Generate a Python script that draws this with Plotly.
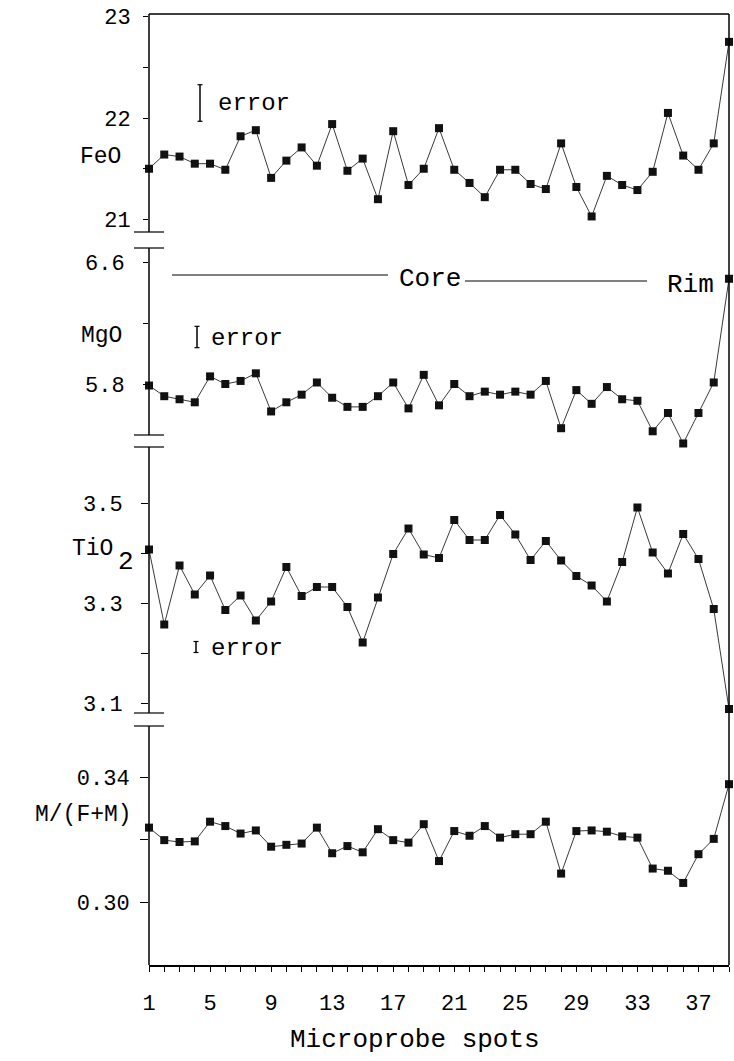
import plotly.graph_objects as go

# ---------------- data ----------------
spots = list(range(1, 40))
feo = [21.50, 21.64, 21.62, 21.55, 21.55, 21.49, 21.82, 21.88, 21.41, 21.58,
       21.71, 21.53, 21.94, 21.48, 21.60, 21.20, 21.87, 21.34, 21.50, 21.90,
       21.49, 21.36, 21.22, 21.49, 21.49, 21.35, 21.30, 21.75, 21.32, 21.03,
       21.43, 21.34, 21.29, 21.47, 22.05, 21.63, 21.49, 21.75, 22.75]
mgo = [5.79, 5.72, 5.70, 5.68, 5.85, 5.80, 5.82, 5.87, 5.62, 5.68,
       5.73, 5.81, 5.71, 5.65, 5.65, 5.72, 5.81, 5.64, 5.86, 5.66,
       5.80, 5.72, 5.75, 5.73, 5.75, 5.73, 5.82, 5.51, 5.76, 5.67,
       5.78, 5.70, 5.69, 5.49, 5.61, 5.41, 5.61, 5.81, 6.49]
tio2 = [3.407, 3.257, 3.375, 3.317, 3.355, 3.286, 3.315, 3.265, 3.303, 3.372,
        3.314, 3.332, 3.332, 3.292, 3.221, 3.311, 3.398, 3.449, 3.397, 3.390,
        3.466, 3.426, 3.426, 3.476, 3.437, 3.386, 3.424, 3.385, 3.354, 3.335,
        3.303, 3.382, 3.491, 3.401, 3.359, 3.438, 3.388, 3.288, 3.088]
mfm = [0.3238, 0.3198, 0.3192, 0.3194, 0.3257, 0.3243, 0.3219, 0.3229, 0.3177, 0.3183,
       0.3187, 0.3238, 0.3156, 0.3179, 0.3159, 0.3233, 0.3198, 0.3190, 0.3249, 0.3131,
       0.3227, 0.3212, 0.3243, 0.3206, 0.3217, 0.3217, 0.3257, 0.3091, 0.3227, 0.3229,
       0.3225, 0.3210, 0.3206, 0.3107, 0.3100, 0.3061, 0.3153, 0.3202, 0.3377]

x_tickvals = [1, 5, 9, 13, 17, 21, 25, 29, 33, 37]
feo_ticks = [21, 21.5, 22, 22.5, 23]
feo_ticktext = ["21", "", "22", "", "23"]
mgo_ticks = [5.8, 6.2, 6.6]
mgo_ticktext = ["5.8", "", "6.6"]
tio2_ticks = [3.1, 3.2, 3.3, 3.4, 3.5]
tio2_ticktext = ["3.1", "", "3.3", "", "3.5"]
mfm_ticks = [0.30, 0.32, 0.34]
mfm_ticktext = ["0.30", "", "0.34"]
errors = {"feo": 0.36, "mgo": 0.14, "tio2": 0.022}

# ---------------- layout geometry (pixels) ----------------
W, H = 734, 1061
L, R = 149, 729          # plot area left/right px
T, B = 14, 965           # plot area top/bottom px
PW, PH = R - L, B - T
FONT = "Liberation Mono, Courier New, monospace"


def fx(px):
    return (px - L) / PW


def fy(px):
    return (B - px) / PH


def panel(top_px, bot_px, ref_val, ref_px, px_per_unit):
    dom = [fy(bot_px), fy(top_px)]
    rng = [ref_val - (bot_px - ref_px) / px_per_unit,
           ref_val + (ref_px - top_px) / px_per_unit]
    return dom, rng


panels = {
    "y":  panel(14, 240, 22.0, 118, 101.5),
    "y2": panel(238, 452, 6.6, 262, 152.5),
    "y3": panel(440, 722, 3.5, 503, 500.0),
    "y4": panel(718, 965, 0.34, 777, 3125.0),
}

fig = go.Figure()
series = [("y", feo), ("y2", mgo), ("y3", tio2), ("y4", mfm)]
for yref, vals in series:
    fig.add_trace(go.Scatter(
        x=spots, y=vals, xaxis="x", yaxis=yref, mode="lines+markers",
        line=dict(color="#3a3a3a", width=1),
        marker=dict(symbol="square", size=8, color="#111111",
                    line=dict(color="#111111", width=0)),
        cliponaxis=False, showlegend=False, hoverinfo="skip"))

axis_common = dict(showline=False, zeroline=False, showgrid=False,
                   ticks="outside", tickcolor="black", tickwidth=1,
                   tickfont=dict(family=FONT, size=22, color="black"),
                   anchor="x", fixedrange=True)

layout_axes = {}
tick_defs = {
    "y": (feo_ticks, feo_ticktext, 5, 8),
    "y2": (mgo_ticks, mgo_ticktext, 5, 14),
    "y3": (tio2_ticks, tio2_ticktext, 7, 14),
    "y4": (mfm_ticks, mfm_ticktext, 8, 6),
}
for key, (dom, rng) in panels.items():
    tv, tt, tl, so = tick_defs[key]
    name = "yaxis" if key == "y" else "yaxis" + key[1:]
    layout_axes[name] = dict(axis_common, domain=dom, range=rng,
                             tickvals=tv, ticktext=tt, ticklen=tl,
                             ticklabelstandoff=so)

fig.update_layout(
    width=W, height=H,
    margin=dict(l=L, r=W - R, t=T, b=H - B, pad=0),
    paper_bgcolor="white", plot_bgcolor="white",
    xaxis=dict(domain=[0, 1], range=[1, 39], anchor="y4", showline=True,
               linecolor="black", linewidth=1.5, zeroline=False, showgrid=False,
               tickvals=x_tickvals, ticks="outside", ticklen=5, tickcolor="black",
               ticklabelstandoff=12,
               tickfont=dict(family=FONT, size=22, color="black"),
               minor=dict(dtick=1, tick0=1, ticks="outside", ticklen=5,
                          tickcolor="black", showgrid=False),
               fixedrange=True),
    **layout_axes,
)

shapes = []
line_k = dict(color="black", width=1.5)
# left axis segments with broken-axis caps
segments = [(14, 232), (248, 435), (447, 713), (726, 965)]
for top, bot in segments:
    shapes.append(dict(type="line", xref="paper", yref="paper",
                       x0=0, x1=0, y0=fy(bot), y1=fy(top), line=line_k))
for cap in [232, 248, 435, 447, 713, 726]:
    shapes.append(dict(type="line", xref="paper", yref="paper",
                       x0=fx(L - 15), x1=fx(L + 15), y0=fy(cap), y1=fy(cap),
                       line=dict(color="black", width=1.2)))
# top border and right border
shapes.append(dict(type="line", xref="paper", yref="paper",
                   x0=0, x1=1, y0=1, y1=1, line=line_k))
shapes.append(dict(type="line", xref="paper", yref="paper",
                   x0=1, x1=1, y0=0, y1=1, line=line_k))
# Core -> Rim lines
shapes.append(dict(type="line", xref="paper", yref="paper",
                   x0=fx(172), x1=fx(388), y0=fy(275), y1=fy(275),
                   line=dict(color="black", width=1)))
shapes.append(dict(type="line", xref="paper", yref="paper",
                   x0=fx(465), x1=fx(647), y0=fy(281), y1=fy(281),
                   line=dict(color="black", width=1)))

# error bars (vertical bar with small caps)
err_specs = [(200, 103, errors["feo"], 101.5),
             (197, 337, errors["mgo"], 152.5),
             (196, 647, errors["tio2"], 500.0)]
for xpx, cpx, err, ppu in err_specs:
    half = err * ppu / 2
    shapes.append(dict(type="line", xref="paper", yref="paper",
                       x0=fx(xpx), x1=fx(xpx), y0=fy(cpx + half), y1=fy(cpx - half),
                       line=dict(color="black", width=1.5)))
    for yy in (cpx - half, cpx + half):
        shapes.append(dict(type="line", xref="paper", yref="paper",
                           x0=fx(xpx - 2.5), x1=fx(xpx + 2.5), y0=fy(yy), y1=fy(yy),
                           line=dict(color="black", width=1.2)))

fig.update_layout(shapes=shapes)


def ann(text, xpx, ypx, size=23, xanchor="left"):
    fig.add_annotation(text=text, xref="paper", yref="paper",
                       x=fx(xpx), y=fy(ypx), xanchor=xanchor, yanchor="middle",
                       showarrow=False,
                       font=dict(family=FONT, size=size, color="black"))


ann("error", 216, 104, 24)
ann("error", 209, 338, 24)
ann("error", 209, 648, 24)
ann("Core", 430, 279, 26, "center")
ann("Rim", 690, 285, 26, "center")
ann("FeO", 123, 157, 23, "right")
ann("MgO", 124, 336, 23, "right")
ann("TiO", 115, 549, 23, "right")
ann("2", 116, 562, 26, "left")
ann("M/(F+M)", 134, 815, 23, "right")
ann("Microprobe spots", 415, 1040, 26, "center")

fig.write_html("out.html")
